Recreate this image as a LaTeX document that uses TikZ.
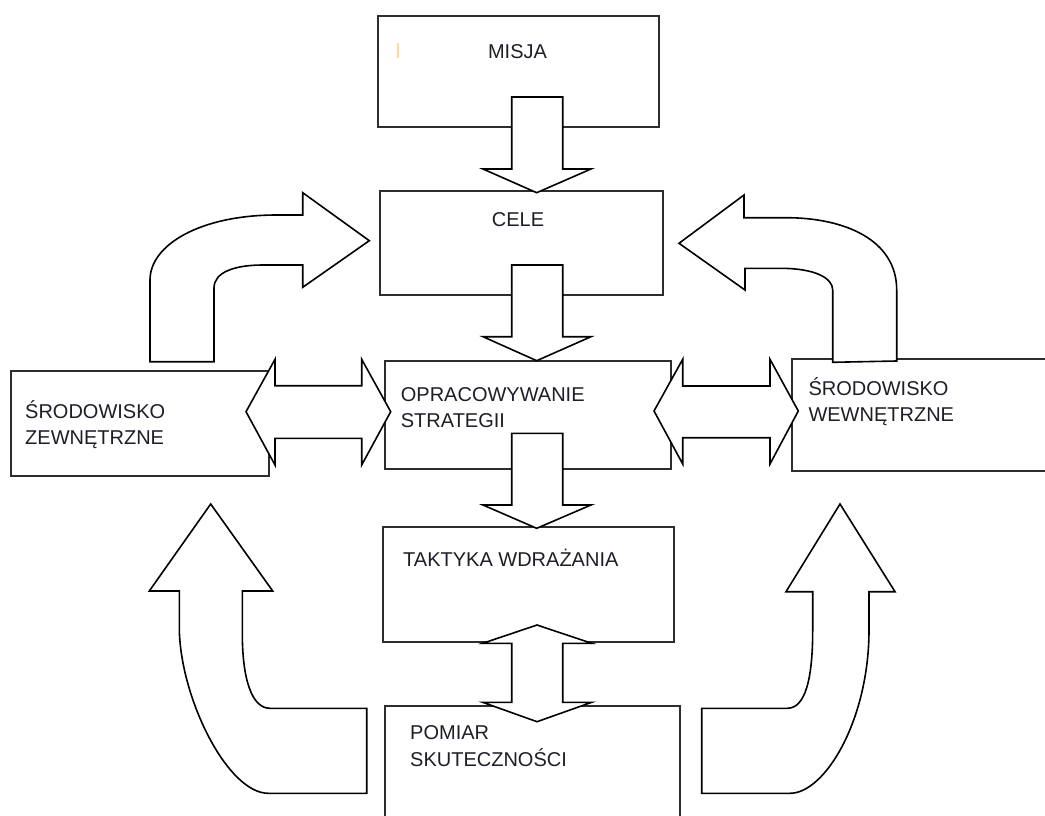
\documentclass[tikz,border=0pt]{standalone}
\usepackage{fontspec}
\newfontfamily\lab{Liberation Sans}
\definecolor{boxc}{RGB}{45,45,45}
\definecolor{txtc}{RGB}{30,30,40}
\definecolor{markc}{RGB}{255,215,150}
\begin{document}
\begin{tikzpicture}[x=1pt,y=-1pt,
  box/.style={draw=boxc,line width=1.8pt,fill=white,inner sep=0pt,outer sep=0pt,anchor=north west},
  txt/.style={text=txtc,font=\lab\fontsize{20}{24}\selectfont,inner sep=0pt,anchor=base west},
  blk/.style={draw=black,line width=1.6pt,fill=white,line join=miter}]
\useasboundingbox (0,0) rectangle (1045,816);
\clip (0,0) rectangle (1045,816);
\fill[white] (0,0) rectangle (1045,816);
% boxes
\node[box,minimum width=281pt,minimum height=111pt] (misja) at (378,16) {};
\node[box,minimum width=282.7pt,minimum height=104.3pt] (cele) at (380,190.7) {};
\node[box,minimum width=286pt,minimum height=108.6pt] (opr) at (385,360.7) {};
\node[box,minimum width=258.3pt,minimum height=105pt] (zewn) at (11,370.7) {};
\node[box,minimum width=280pt,minimum height=111.7pt] (wewn) at (792.3,359.3) {};
\node[box,minimum width=290.7pt,minimum height=114.4pt] (takt) at (383.3,527.3) {};
\node[box,minimum width=295pt,minimum height=140pt] (pomiar) at (385,706) {};
% texts
\node[txt,anchor=base] (tmisja) at (517.5,59) {MISJA};
\draw[markc,line width=1.6pt] (398,43.5) -- (398,58.5);
\node[txt,anchor=base] (tcele) at (518,226) {CELE};
\node[txt] (topr1) at (400.7,401.5) {OPRACOWYWANIE};
\node[txt] (topr2) at (400.7,427.5) {STRATEGII};
\node[txt] (tz1) at (25,418.3) {ŚRODOWISKO};
\node[txt] (tz2) at (25,444) {ZEWNĘTRZNE};
\node[txt] (tw1) at (808.3,395) {ŚRODOWISKO};
\node[txt] (tw2) at (808.3,421.7) {WEWNĘTRZNE};
\node[txt] (ttakt) at (403,566.7) {TAKTYKA WDRAŻANIA};
\node[txt] (tp1) at (410,739.3) {POMIAR};
\node[txt] (tp2) at (410,766) {SKUTECZNOŚCI};
% straight block arrows
\draw[blk] (511.7,97) -- (562.7,97) -- (562.7,169) -- (591,169) -- (536.7,192.7) -- (483,169) -- (511.7,169) -- cycle;
\draw[blk] (511.7,265) -- (562.7,265) -- (562.7,336.7) -- (591,336.7) -- (536.7,360.7) -- (483,336.7) -- (511.7,336.7) -- cycle;
\draw[blk] (511.7,433.3) -- (562.7,433.3) -- (562.7,505) -- (591,505) -- (536.7,528.3) -- (483,505) -- (511.7,505) -- cycle;
\draw[blk] (537,625) -- (591.7,643.3) -- (562.7,643.3) -- (562.7,702.3) -- (591.7,702.3) -- (537,721.7) -- (482.7,702.3) -- (511.7,702.3) -- (511.7,643.3) -- (482.7,643.3) -- cycle;
\draw[blk] (246,411.7) -- (275,359.3) -- (275,385.7) -- (361.7,385.7) -- (361.7,359.3) -- (390.7,411.7) -- (361.7,465) -- (361.7,438.3) -- (275,438.3) -- (275,465) -- cycle;
\draw[blk] (654,411) -- (682.7,359.3) -- (682.7,386) -- (770,386) -- (770,359.3) -- (798.3,411) -- (770,464) -- (770,437.7) -- (682.7,437.7) -- (682.7,464) -- cycle;
% curved block arrows
\draw[blk] (150,361.7) -- (150,280) .. controls (150,245) and (200,215) .. (276.7,215) -- (302.7,215) -- (302.7,192.7) -- (369.3,240.7) -- (302.7,287.3) -- (302.7,265) -- (263,265) .. controls (235,265) and (214,272) .. (214,288) -- (214,361.7) -- cycle;
\draw[blk] (744,217.7) -- (786,217.7) .. controls (845,217.7) and (896.7,240) .. (896.7,290) -- (896.7,361) -- (832.7,362.3) -- (832.7,290) .. controls (832.7,278) and (815,268.3) .. (780,268.3) -- (745,268.3) -- (745,290) -- (679,243.3) -- (744,195) -- cycle;
\draw[blk] (210.7,504) -- (272.7,591) -- (242.3,591) -- (242.3,633) .. controls (242.3,680) and (252,708.3) .. (270,708.3) -- (366.7,708.3) -- (366.7,793.3) -- (268.3,793.3) .. controls (228,793.3) and (181,700) .. (179.3,630) -- (179.3,591) -- (149.3,591) -- cycle;
\draw[blk] (840,504) -- (895,591.7) -- (869,591.7) -- (869,630) .. controls (869,720) and (825,793.3) .. (790,793.3) -- (701.7,793.3) -- (701.7,708.3) -- (787.3,708.3) .. controls (805,708.3) and (812.7,680) .. (812.7,630) -- (812.7,591.7) -- (786,591.7) -- cycle;
\end{tikzpicture}
\end{document}
